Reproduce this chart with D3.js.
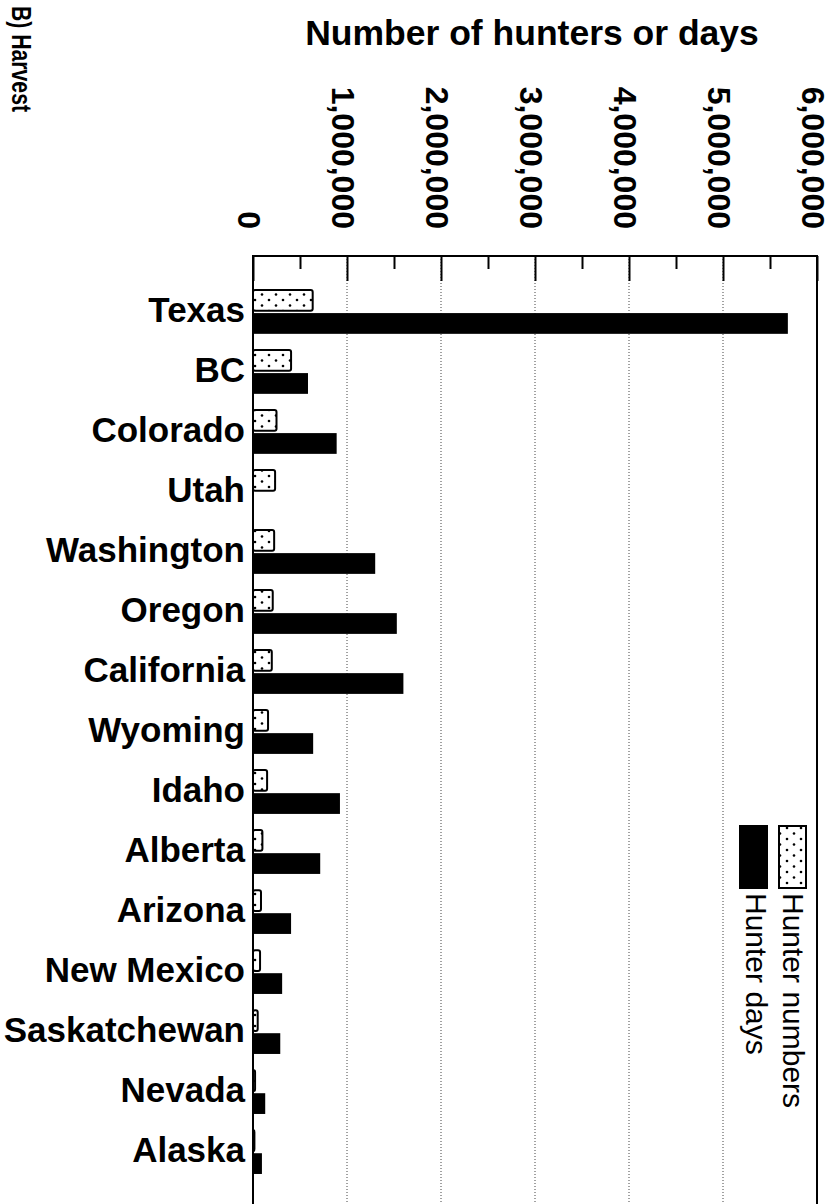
<!DOCTYPE html>
<html>
<head>
<meta charset="utf-8">
<script src="https://cdn.jsdelivr.net/npm/d3@7"></script>
<style>
  body { margin: 0; background: #fff; }
  svg { display: block; font-family: "Liberation Sans", Arial, sans-serif; }
</style>
</head>
<body>
<svg width="840" height="1204"></svg>
<script>
// Data
const regions = ["Texas", "BC", "Colorado", "Utah", "Washington", "Oregon", "California",
    "Wyoming", "Idaho", "Alberta", "Arizona", "New Mexico", "Saskatchewan", "Nevada", "Alaska"];
const hunterNumbers = [635000, 405000, 250000, 235000, 225000, 210000, 200000,
    160000, 150000, 100000, 85000, 75000, 50000, 22000, 15000];
const hunterDays = [5690000, 585000, 890000, null, 1300000, 1530000, 1600000,
    640000, 925000, 715000, 405000, 310000, 290000, 130000, 95000];
const seriesNames = ["Hunter numbers", "Hunter days"];
const majorTicks = [0, 1000000, 2000000, 3000000, 4000000, 5000000, 6000000];
const minorTicks = [500000, 1500000, 2500000, 3500000, 4500000, 5500000];

const svg = d3.select("svg");

// layout
const plotLeft = 253, plotRight = 817, plotTop = 256, plotBottom = 1208;

// dotted fill
const defs = svg.append("defs");
const pat = defs.append("pattern")
    .attr("id", "dots")
    .attr("patternUnits", "userSpaceOnUse")
    .attr("width", 14).attr("height", 11);
pat.append("rect").attr("width", 14).attr("height", 11).attr("fill", "#fff");
pat.append("circle").attr("cx", 3).attr("cy", 3).attr("r", 1.3).attr("fill", "#000");
pat.append("circle").attr("cx", 10).attr("cy", 8.5).attr("r", 1.3).attr("fill", "#000");

const x = d3.scaleLinear()
    .domain([0, 6000000])
    .range([plotLeft, plotRight]);

const y = d3.scaleBand()
    .domain(regions)
    .range([plotTop, plotBottom])
    .paddingInner(0.27)
    .paddingOuter(0.567);

const ySub = d3.scaleBand()
    .domain(seriesNames)
    .range([0, y.bandwidth()])
    .paddingInner(0.1);

// dotted grid lines
svg.append("g")
    .selectAll("line")
    .data(majorTicks.slice(1, -1))
    .enter()
    .append("line")
    .attr("x1", d => x(d))
    .attr("x2", d => x(d))
    .attr("y1", plotTop)
    .attr("y2", plotBottom)
    .attr("stroke", "#444")
    .attr("stroke-width", 1)
    .attr("stroke-dasharray", "1,2");

// bars
const rows = regions.map((r, i) => ({region: r, numbers: hunterNumbers[i], days: hunterDays[i]}));

svg.append("g")
    .selectAll("rect")
    .data(rows.filter(d => d.days != null))
    .enter()
    .append("rect")
    .attr("x", x(0))
    .attr("y", d => y(d.region) + ySub("Hunter days"))
    .attr("width", d => x(d.days) - x(0))
    .attr("height", ySub.bandwidth())
    .attr("fill", "#000");

svg.append("g")
    .selectAll("rect")
    .data(rows)
    .enter()
    .append("rect")
    .attr("x", x(0))
    .attr("y", d => y(d.region) + ySub("Hunter numbers"))
    .attr("width", d => x(d.numbers) - x(0))
    .attr("height", ySub.bandwidth())
    .attr("rx", 2)
    .attr("fill", "url(#dots)")
    .attr("stroke", "#000")
    .attr("stroke-width", 2);

// frame + ticks (ticks point into the plot from the top)
svg.append("g")
    .attr("transform", `translate(0, ${plotTop})`)
    .call(d3.axisTop(x).tickValues(majorTicks).tickSize(-25).tickFormat(""))
    .call(g => g.select(".domain").remove())
    .call(g => g.selectAll("line").attr("stroke-width", 2));

svg.append("g")
    .attr("transform", `translate(0, ${plotTop})`)
    .call(d3.axisTop(x).tickValues(minorTicks).tickSize(-13).tickFormat(""))
    .call(g => g.select(".domain").remove())
    .call(g => g.selectAll("line").attr("stroke-width", 2));

svg.append("path")
    .attr("d", `M${plotLeft},${plotBottom}V${plotTop}H${plotRight}V${plotBottom}`)
    .attr("fill", "none")
    .attr("stroke", "#000")
    .attr("stroke-width", 2);

// tick labels, turned a quarter
const fmt = d3.format(",");
svg.append("g")
    .selectAll("text")
    .data(majorTicks)
    .enter()
    .append("text")
    .attr("transform", d => `translate(${x(d) - 15}, 229) rotate(90)`)
    .attr("text-anchor", "end")
    .attr("font-size", "32px")
    .attr("font-weight", "bold")
    .text(d => fmt(d));

// axis title
svg.append("text")
    .attr("x", 532)
    .attr("y", 45)
    .attr("text-anchor", "middle")
    .attr("font-size", "35.5px")
    .attr("font-weight", "bold")
    .text("Number of hunters or days");

// panel label
svg.append("text")
    .attr("transform", "translate(12, 6) rotate(90)")
    .attr("font-size", "27px")
    .attr("font-weight", "bold")
    .attr("textLength", 106)
    .attr("lengthAdjust", "spacingAndGlyphs")
    .text("B) Harvest");

// category labels
svg.append("g")
    .selectAll("text")
    .data(regions)
    .enter()
    .append("text")
    .attr("x", 245)
    .attr("y", d => y(d) + y.bandwidth() / 2 - 2)
    .attr("dy", "0.35em")
    .attr("text-anchor", "end")
    .attr("font-size", "35px")
    .attr("font-weight", "bold")
    .text(d => d);

// legend
const legend = svg.append("g");
const legendItems = [
    {name: "Hunter numbers", fill: "url(#dots)", bx: 779, tx: 783},
    {name: "Hunter days", fill: "#000", bx: 740, tx: 746}
];
legend.selectAll("rect")
    .data(legendItems)
    .enter()
    .append("rect")
    .attr("x", d => d.bx)
    .attr("y", 826)
    .attr("width", 27)
    .attr("height", 62)
    .attr("fill", d => d.fill)
    .attr("stroke", "#000")
    .attr("stroke-width", 2);

legend.selectAll("text")
    .data(legendItems)
    .enter()
    .append("text")
    .attr("transform", d => `translate(${d.tx}, 893) rotate(90)`)
    .attr("font-size", "30px")
    .text(d => d.name);
</script>
</body>
</html>
